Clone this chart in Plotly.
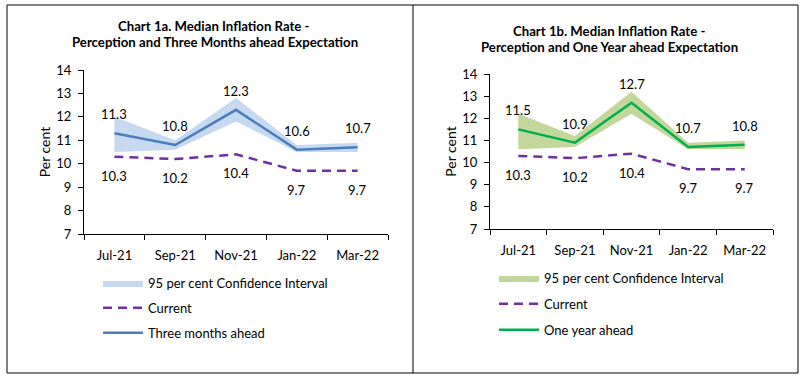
import plotly.graph_objects as go

months = ["Jul-21", "Sep-21", "Nov-21", "Jan-22", "Mar-22"]
current = [10.3, 10.2, 10.4, 9.7, 9.7]
three_month = [11.3, 10.8, 12.3, 10.6, 10.7]
three_month_lo = [10.5, 10.6, 11.8, 10.5, 10.5]
three_month_hi = [12.0, 11.0, 12.8, 10.8, 10.9]
one_year = [11.5, 10.9, 12.7, 10.7, 10.8]
one_year_lo = [10.6, 10.7, 12.2, 10.6, 10.6]
one_year_hi = [12.2, 11.2, 13.2, 10.9, 11.0]

W, H = 804, 380
FONT = "Lato"
BLUE = "#4A7EBB"
BLUE_FILL = "#C6D9F0"
GREEN = "#00B050"
GREEN_FILL = "#C3D69B"
PURPLE = "#7030A0"

fig = go.Figure()


def add_panel(xa, ya, leg, lo, hi, exp, exp_name, line_col, fill_col):
    fig.add_trace(go.Scatter(x=months, y=lo, xaxis=xa, yaxis=ya, mode="lines",
                             line=dict(width=0, color=fill_col), showlegend=False,
                             legendgroup=leg + "ci", legend=leg, hoverinfo="skip"))
    fig.add_trace(go.Scatter(x=months, y=hi, xaxis=xa, yaxis=ya, mode="lines",
                             line=dict(width=0, color=fill_col), fill="tonexty",
                             fillcolor=fill_col, name="95 per cent Confidence Interval",
                             legendgroup=leg + "ci", legend=leg))
    fig.add_trace(go.Scatter(x=months, y=current, xaxis=xa, yaxis=ya, mode="lines",
                             line=dict(width=2.5, color=PURPLE, dash="9px,6px"),
                             name="Current", legendgroup=leg + "cur", legend=leg))
    fig.add_trace(go.Scatter(x=months, y=exp, xaxis=xa, yaxis=ya, mode="lines",
                             line=dict(width=2.5, color=line_col),
                             name=exp_name, legendgroup=leg + "exp", legend=leg))
    for m, v in zip(months, exp):
        fig.add_annotation(x=m, y=v, xref=xa, yref=ya, text=f"{v:.1f}", showarrow=False,
                           yshift=19, font=dict(family=FONT, size=13, color="#000"))
    for m, v in zip(months, current):
        fig.add_annotation(x=m, y=v, xref=xa, yref=ya, text=f"{v:.1f}", showarrow=False,
                           yshift=-19, font=dict(family=FONT, size=13, color="#000"))


add_panel("x", "y", "legend", three_month_lo, three_month_hi, three_month,
          "Three months ahead", BLUE, BLUE_FILL)
add_panel("x2", "y2", "legend2", one_year_lo, one_year_hi, one_year,
          "One year ahead", GREEN, GREEN_FILL)

axis_common_x = dict(type="category", range=[-0.5, 4.5], showline=True, linecolor="#000",
                     linewidth=1, ticks="outside", tickson="boundaries", ticklen=5,
                     tickcolor="#000", showgrid=False, zeroline=False, automargin=False,
                     ticklabelstandoff=9,
                     tickfont=dict(family=FONT, size=13, color="#000"))
axis_common_y = dict(range=[7, 14], dtick=1, showline=True, linecolor="#000", linewidth=1,
                     ticks="outside", ticklen=5, tickcolor="#000", showgrid=False,
                     zeroline=False, automargin=False, ticklabelstandoff=4,
                     tickfont=dict(family=FONT, size=13, color="#000"),
                     title=dict(text="Per cent", font=dict(family=FONT, size=14, color="#000"),
                                standoff=2))

legend_common = dict(xanchor="left", yanchor="top", traceorder="grouped",
                     bgcolor="rgba(0,0,0,0)", font=dict(family=FONT, size=13, color="#000"),
                     itemwidth=40)

fig.update_layout(
    width=W, height=H,
    margin=dict(l=0, r=0, t=0, b=0, autoexpand=False),
    paper_bgcolor="white", plot_bgcolor="white",
    font=dict(family=FONT, color="#000"),
    xaxis=dict(domain=[84 / W, 388 / W], anchor="y", **axis_common_x),
    yaxis=dict(domain=[1 - 234 / H, 1 - 70 / H], anchor="x", **axis_common_y),
    xaxis2=dict(domain=[490 / W, 773 / W], anchor="y2", **axis_common_x),
    yaxis2=dict(domain=[1 - 229 / H, 1 - 74 / H], anchor="x2", **axis_common_y),
    legend=dict(x=98 / W, y=1 - 268 / H, tracegroupgap=5, **legend_common),
    legend2=dict(x=494 / W, y=1 - 263 / H, tracegroupgap=6, **legend_common),
    shapes=[
        dict(type="rect", xref="paper", yref="paper", x0=7 / W, x1=798 / W,
             y0=1 - 373 / H, y1=1 - 5 / H, line=dict(color="#000", width=1)),
        dict(type="line", xref="paper", yref="paper", x0=413 / W, x1=413 / W,
             y0=1 - 373 / H, y1=1 - 5 / H, line=dict(color="#000", width=1)),
    ],
)

titles = [
    (116, 26, "Chart 1a. Median Inflation Rate -"),
    (70, 42, "Perception and Three Months ahead Expectation"),
    (511, 31, "Chart 1b. Median Inflation Rate -"),
    (479, 47, "Perception and One Year ahead Expectation"),
]
for tx, ty, tt in titles:
    fig.add_annotation(x=tx / W, y=1 - ty / H, xref="paper", yref="paper", showarrow=False,
                       xanchor="left", yanchor="middle", text=f"<b>{tt}</b>",
                       font=dict(family=FONT, size=13.2, color="#000"))

fig.write_html("out.html", post_script="document.body.style.margin='0';",
               config={"displayModeBar": False})
